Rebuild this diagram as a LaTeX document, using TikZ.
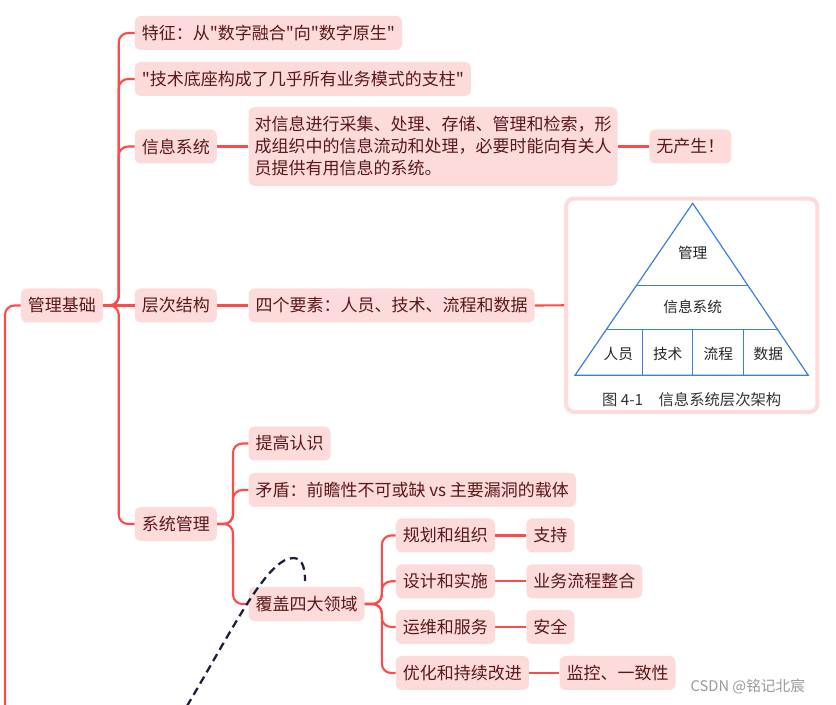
\documentclass[tikz,border=0pt]{standalone}
\usepackage{fontspec}
\setmainfont{Noto Sans CJK SC}[Ligatures=TeXOff]
\usepackage{tikz}
\usetikzlibrary{arrows.meta, calc, positioning}
\definecolor{mapline}{HTML}{FF4A4A}
\definecolor{mapfill}{HTML}{FDDBDB}
\definecolor{maptext}{HTML}{5A1818}
\definecolor{pyrblue}{HTML}{3C7FD6}
\definecolor{dashink}{HTML}{1B1F3B}

\begin{document}
\begin{tikzpicture}[x=0.75pt,y=-0.75pt,>=Stealth,
  topic/.style={fill=mapfill,text=maptext,rounded corners=4.5pt,anchor=west,
    minimum height=25.5pt,inner xsep=5.25pt,inner ysep=2pt,
    font=\fontsize{12.75}{16.5}\selectfont},
  link/.style={draw=mapline,line width=1.6pt,rounded corners=7pt},
  pyr/.style={draw=pyrblue,line width=0.9pt},
  tier/.style={text=black!85,font=\fontsize{11}{13}\selectfont}]
  \useasboundingbox (0,0) rectangle (836,705);
  % root and first level
  \node[topic] (root) at (20.7,305.5) {管理基础};
  \node[topic] (feat) at (134.5,33) {特征：从"数字融合"向"数字原生"};
  \node[topic] (base) at (134.5,79) {"技术底座构成了几乎所有业务模式的支柱"};
  \node[topic] (info) at (134.5,146.5) {信息系统};
  \node[topic] (layer) at (134.5,305.5) {层次结构};
  \node[topic] (sysm) at (134.5,524) {系统管理};
  \coordinate (down) at (5,712);
  \draw[link] (root.west) -| (down);
  \foreach \c in {feat,base,info,sysm}
    \draw[link] (root.east) -- ++(15.5,0) |- (\c.west);
  \draw[link] (root.east) -- (layer.west);
  % information system
  \node[topic,align=left,minimum height=59pt,inner xsep=4.5pt] (def) at (248.3,146.5)
    {对信息进行采集、处理、存储、管理和检索，形\\成组织中的信息流动和处理，必要时能向有关人\\员提供有用信息的系统。};
  \node[topic] (none) at (649,146.5) {无产生！};
  \draw[link] (info.east) -- (def.west);
  \draw[link] (def.east) -- (none.west);
  % hierarchy and pyramid picture
  \node[topic] (four) at (248.3,305.5) {四个要素：人员、技术、流程和数据};
  \node[draw=mapfill,line width=3pt,fill=white,rounded corners=6pt,inner sep=0pt,
    minimum width=188.5pt,minimum height=160pt] (pic) at (691.7,305.3) {};
  \draw[link] (layer.east) -- (four.west);
  \draw[link] (four.east) -- (pic.west);
  \coordinate (A) at (692.7,203.3);
  \coordinate (BL) at (575,375.3);
  \coordinate (BR) at (808.3,375.3);
  \draw[pyr] (BL) -- (A) -- (BR) -- cycle;
  \draw[pyr] ($(BL)!0.521!(A)$) -- ($(BR)!0.521!(A)$);
  \draw[pyr] ($(BL)!0.2674!(A)$) -- ($(BR)!0.2674!(A)$);
  \foreach \vx in {642.3,692.7,743.7}
    \draw[pyr] (\vx,329.3) -- (\vx,375.3);
  \node[tier] (mgmt) at (692.7,253.3) {管理};
  \node[tier] (isys) at (692.7,307.3) {信息系统};
  \node[tier] (ppl) at (618.3,354) {人员};
  \node[tier] (tech) at (667.7,354) {技术};
  \node[tier] (proc) at (718.3,354) {流程};
  \node[tier] (data) at (768.3,354) {数据};
  \node[text=black!80,font=\fontsize{11.5}{13}\selectfont] (cap) at (691.7,399.5)
    {图 4-1\quad 信息系统层次架构};
  % system management
  \node[topic] (aware) at (248.3,443.5) {提高认识};
  \node[topic] (conf) at (248.3,490) {矛盾：前瞻性不可或缺 vs 主要漏洞的载体};
  \node[topic] (cover) at (248.3,604) {覆盖四大领域};
  \foreach \c in {aware,conf,cover}
    \draw[link] (sysm.east) -- ++(16,0) |- (\c.west);
  % four domains
  \node[topic] (plan) at (395.7,535.5) {规划和组织};
  \node[topic] (design) at (395.7,581.3) {设计和实施};
  \node[topic] (ops) at (395.7,627) {运维和服务};
  \node[topic] (opt) at (395.7,673) {优化和持续改进};
  \node[topic] (supp) at (526,535.5) {支持};
  \node[topic] (bpi) at (526,581.3) {业务流程整合};
  \node[topic] (safe) at (526,627) {安全};
  \node[topic] (mon) at (559.3,673) {监控、一致性};
  \foreach \c in {plan,design,ops,opt}
    \draw[link] (cover.east) -- ++(17,0) |- (\c.west);
  \draw[link] (plan.east) -- (supp.west);
  \draw[link] (design.east) -- (bpi.west);
  \draw[link] (ops.east) -- (safe.west);
  \draw[link] (opt.east) -- (mon.west);
  % hand-drawn dashed stroke
  \draw[dashink,line width=1.7pt,dash pattern=on 6pt off 3.75pt]
    (187,706) .. controls (235,625) and (268,557) .. (294,558)
    .. controls (303,559) and (305,569) .. (305,581);
  \node[text=black!40,anchor=west,font=\fontsize{11}{13}\selectfont] (mark) at (686,687) {CSDN @铭记北宸};
\end{tikzpicture}
\end{document}
